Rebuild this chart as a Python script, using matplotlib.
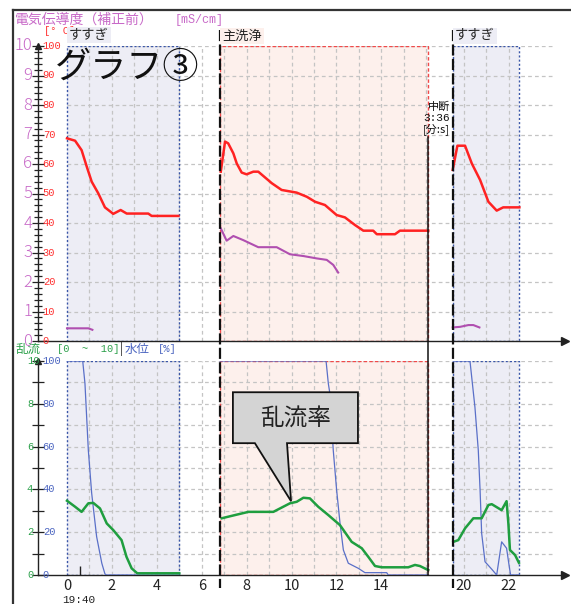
import numpy as np
import matplotlib.pyplot as plt
import matplotlib.transforms as mtransforms
from matplotlib.lines import Line2D
from matplotlib.patches import Rectangle, Polygon

plt.rcParams['font.family'] = ['Noto Sans CJK JP', 'DejaVu Sans']

# ---- data: time in minutes from 19:40 ----
# top panel: temperature [°C] (red, 0-100) and conductivity [mS/cm] (purple, 0-10)
rinse1_t = [0.0, 0.36, 0.65, 0.88, 1.10, 1.39, 1.69, 2.06, 2.39, 2.66, 3.62, 3.77, 4.96]
rinse1_temp = [68.7, 67.9, 64.7, 59.1, 54.0, 50.1, 45.3, 43.1, 44.4, 43.2, 43.2, 42.4, 42.4]
rinse1_cond_t = [0.0, 0.95, 1.13]
rinse1_cond = [0.43, 0.43, 0.38]

main_t = [6.85, 7.04, 7.18, 7.41, 7.56, 7.78, 8.00, 8.30, 8.52, 9.12, 9.56, 10.23,
          10.68, 11.05, 11.49, 12.01, 12.38, 12.83, 13.20, 13.64, 13.80, 14.61, 14.83, 16.09]
main_temp = [57.4, 67.6, 67.0, 63.6, 60.2, 57.1, 56.5, 57.4, 57.4, 53.5, 51.2, 50.3,
             48.9, 47.2, 46.1, 42.7, 41.9, 39.3, 37.4, 37.4, 36.2, 36.2, 37.4, 37.4]
main_cond_t = [6.85, 7.11, 7.41, 7.85, 8.52, 9.34, 9.93, 10.53, 11.12, 11.57, 11.86, 12.08]
main_cond = [3.82, 3.40, 3.56, 3.42, 3.18, 3.18, 2.94, 2.88, 2.80, 2.75, 2.58, 2.32]

rinse2_t = [19.51, 19.72, 20.06, 20.36, 20.73, 21.10, 21.47, 21.76, 22.48]
rinse2_temp = [58.0, 66.2, 66.2, 60.2, 54.6, 47.2, 44.2, 45.3, 45.3]
rinse2_cond_t = [19.51, 19.84, 20.21, 20.43, 20.70]
rinse2_cond = [0.46, 0.48, 0.54, 0.54, 0.46]

# bottom panel: water level [%] (blue) and turbulence [0-10] (green)
rinse1_lvl_t = [0.0, 0.70, 0.80, 0.95, 1.10, 1.32, 1.55, 1.69, 1.75, 5.0]
rinse1_lvl = [100, 100, 89.5, 58.3, 38.1, 17.9, 5.5, 0.5, 0, 0]
rinse1_turb_t = [0.0, 0.36, 0.65, 0.95, 1.17, 1.47, 1.77, 2.06, 2.43, 2.65, 2.88, 3.13, 5.0]
rinse1_turb = [3.47, 3.19, 2.95, 3.35, 3.37, 3.11, 2.41, 2.10, 1.63, 0.85, 0.31, 0.08, 0.08]

main_lvl_t = [6.82, 11.54, 11.64, 11.71, 11.86, 12.01, 12.16, 12.31, 12.53, 12.98, 13.27, 14.24, 14.31, 16.08]
main_lvl = [100, 100, 89.5, 84.8, 58.3, 39.7, 24.3, 11.7, 5.5, 3.1, 1.1, 1.1, 0, 0]
main_turb_t = [6.89, 7.48, 8.08, 9.19, 9.93, 10.23, 10.53, 10.82, 11.19, 11.64, 12.16, 12.68,
               13.13, 13.42, 13.72, 14.02, 15.20, 15.50, 15.72, 16.09]
main_turb = [2.65, 2.80, 2.95, 2.95, 3.35, 3.42, 3.61, 3.58, 3.19, 2.80, 2.33, 1.55,
             1.25, 0.85, 0.42, 0.36, 0.36, 0.47, 0.42, 0.23]

rinse2_lvl_t = [19.54, 20.28, 20.50, 20.65, 20.73, 20.80, 20.95, 21.25, 21.47, 21.69, 21.91, 22.03, 22.09, 22.48]
rinse2_lvl = [100, 100, 78.5, 58.3, 39.7, 19.5, 6.2, 2.7, 0, 15.5, 12.5, 3.9, 0, 0]
rinse2_turb_t = [19.54, 19.76, 20.06, 20.43, 20.80, 21.10, 21.25, 21.69, 21.91, 21.99, 22.06, 22.29, 22.46]
rinse2_turb = [1.55, 1.63, 2.18, 2.65, 2.65, 3.27, 3.31, 3.03, 3.45, 2.41, 1.17, 0.93, 0.57]

# phases
rinse_spans = [(0.0, 5.0), (19.52, 22.48)]
main_span = (6.82, 16.08)
break_at = 16.08      # 中断
hidden = 2.33         # minutes cut out of the axis at the break

x_ticks = [0, 2, 4, 6, 8, 10, 12, 14, 20, 22]
grid_minutes = list(range(1, 17)) + [20, 21, 22]
cond_labels = [str(i) for i in range(11)]
temp_labels = [str(i * 10) for i in range(11)]
turb_labels = [str(i) for i in range(0, 11, 2)]
lvl_labels = [str(i * 10) for i in range(0, 11, 2)]

C_RED, C_PUR, C_GRN, C_BLU = '#ff2222', '#b04fb0', '#1f9e3f', '#5a70c8'
L_PUR, L_RED, L_GRN, L_BLU = '#c86ac8', '#ff3030', '#2ba04a', '#4a64c0'
RINSE_FILL, RINSE_EDGE = '#ededf5', '#3a56a8'
MAIN_FILL, MAIN_EDGE = '#fdf0ec', '#f04a4a'
GRID = '#c4c4c4'


def disp(t):
    t = np.asarray(t, dtype=float)
    return np.where(t > 17, t - hidden, t)


W, H = 571, 604
fig = plt.figure(figsize=(W / 100, H / 100), dpi=100)


def fx(px):
    return px / W


def fy(py):
    return 1 - py / H


X0, PXM = 67, 22.45
xlim = ((38 - X0) / PXM, (565 - X0) / PXM)
grid_end = (555 - X0) / PXM

ax_top = fig.add_axes([fx(38), fy(341), fx(565) - fx(38), fy(46) - fy(341)])
ax_bot = fig.add_axes([fx(38), fy(575), fx(565) - fx(38), fy(361) - fy(575)])

for ax in (ax_top, ax_bot):
    ax.set_xlim(*xlim)
    ax.set_ylim(0, 100)
    ax.patch.set_alpha(0)
    for s in ('top', 'right'):
        ax.spines[s].set_visible(False)
    for s in ('left', 'bottom'):
        ax.spines[s].set_color('#222')
        ax.spines[s].set_linewidth(1.0)
    ax.plot(1, 0, '>', color='#222', ms=6, transform=ax.transAxes, clip_on=False)
    ax.plot(0, 1, '^', color='#222', ms=5, transform=ax.transAxes, clip_on=False)
    ax.set_yticks(np.arange(0, 101, 10))
    ax.tick_params(axis='y', which='both', direction='inout', length=8, width=0.9,
                   color='#222', labelleft=False)
    ax.tick_params(axis='x', length=0, labelbottom=False)

    # phase boxes
    for a, b in rinse_spans:
        a, b = float(disp(a)), float(disp(b))
        ax.add_patch(Rectangle((a, 0), b - a, 100, facecolor=RINSE_FILL, edgecolor='none', zorder=0.5))
        ax.add_patch(Rectangle((a, 0), b - a, 100, fill=False, edgecolor=RINSE_EDGE, lw=1.0,
                               linestyle=(0, (1.5, 1.5)), zorder=1.5))
    a, b = main_span
    ax.add_patch(Rectangle((a, 0), b - a, 100, facecolor=MAIN_FILL, edgecolor='none', zorder=0.5))
    ax.add_patch(Rectangle((a, 0), b - a, 100, fill=False, edgecolor=MAIN_EDGE, lw=1.0,
                           linestyle=(0, (2.5, 1.5)), zorder=1.5))

    # grid
    ax.vlines(disp(grid_minutes), 0, 100, colors=GRID, lw=0.9, linestyles=(0, (3, 2.5)), zorder=1)
    ax.hlines(np.arange(10, 101, 10), 0, grid_end, colors=GRID, lw=0.9, linestyles=(0, (3, 2.5)), zorder=1)

ax_top.set_yticks(np.arange(0, 101, 2), minor=True)
ax_top.tick_params(axis='y', which='minor', length=6)
ax_bot.set_yticks(np.arange(0, 101, 10))

# top panel lines
for t, v in [(rinse1_t, rinse1_temp), (main_t, main_temp), (rinse2_t, rinse2_temp)]:
    ax_top.plot(disp(t), v, color=C_RED, lw=1.8, zorder=3, solid_joinstyle='round')
for t, v in [(rinse1_cond_t, rinse1_cond), (main_cond_t, main_cond), (rinse2_cond_t, rinse2_cond)]:
    ax_top.plot(disp(t), np.asarray(v) * 10, color=C_PUR, lw=1.5, zorder=3)

# bottom panel lines
for t, v in [(rinse1_lvl_t, rinse1_lvl), (main_lvl_t, main_lvl), (rinse2_lvl_t, rinse2_lvl)]:
    ax_bot.plot(disp(t), v, color=C_BLU, lw=0.9, zorder=3)
for t, v in [(rinse1_turb_t, rinse1_turb), (main_turb_t, main_turb), (rinse2_turb_t, rinse2_turb)]:
    ax_bot.plot(disp(t), np.asarray(v) * 10, color=C_GRN, lw=1.8, zorder=3.2)

# y tick labels
ty = ax_top.get_yaxis_transform()
for i, (a, b) in enumerate(zip(cond_labels, temp_labels)):
    ax_top.text(-0.011, i * 10, a, transform=ty, ha='right', va='center', fontsize=12,
                fontweight='light', color=L_PUR, clip_on=False)
    ax_top.text(0.009, i * 10, b, transform=ty, ha='left', va='center', fontsize=7.5,
                family='Liberation Mono', color=L_RED, clip_on=False)
by = ax_bot.get_yaxis_transform()
for i, (a, b) in enumerate(zip(turb_labels, lvl_labels)):
    ax_bot.text(-0.021, i * 20, a, transform=by, ha='left', va='center', fontsize=7.5,
                family='Liberation Mono', color=L_GRN, clip_on=False)
    ax_bot.text(0.009, i * 20, b, transform=by, ha='left', va='center', fontsize=7.5,
                family='Liberation Mono', color=L_BLU, clip_on=False)

# x tick labels
ax_bot.set_xticks(disp(x_ticks), [str(v) for v in x_ticks])
ax_bot.tick_params(axis='x', length=0, pad=3, labelbottom=True, labelsize=10.5, labelcolor='#222')
fig.text(fx(62), fy(600), '19:40', ha='left', va='center', fontsize=8, family='Liberation Mono', color='#222')

# small event mark
ax_bot.vlines(0.58, 0, 4, colors='#222', lw=1.0, zorder=3)

# phase boundary lines across both panels
tr = mtransforms.blended_transform_factory(ax_top.transData, fig.transFigure)
for x in (main_span[0], float(disp(rinse_spans[1][0]))):
    fig.add_artist(Line2D([x, x], [fy(30), fy(588)], transform=tr, color='#111', lw=1.6,
                          linestyle=(0, (5, 1.5)), zorder=4))
fig.add_artist(Line2D([break_at, break_at], [fy(137), fy(575)], transform=tr, color='#111', lw=1.1, zorder=4))

# header texts
fig.text(fx(15), fy(20), '電気伝導度（補正前）', ha='left', va='center', fontsize=10, color=L_PUR)
fig.text(fx(175), fy(20), '[mS/cm]', ha='left', va='center', fontsize=8.5,
         family='Liberation Mono', color=L_PUR)
fig.text(fx(44), fy(31), '[° C]', ha='left', va='center', fontsize=7.5, family='Liberation Mono', color=L_RED)
fig.text(fx(69), fy(35), 'すすぎ', ha='left', va='center', fontsize=9.5, color='#222',
         bbox=dict(boxstyle='square,pad=0.15', facecolor=RINSE_FILL, edgecolor='none'), zorder=5)
fig.text(fx(222), fy(36), '主洗浄', ha='left', va='center', fontsize=9.5, color='#222',
         bbox=dict(boxstyle='square,pad=0.15', facecolor=MAIN_FILL, edgecolor='none'), zorder=5)
fig.text(fx(455), fy(36), 'すすぎ', ha='left', va='center', fontsize=9.5, color='#222',
         bbox=dict(boxstyle='square,pad=0.15', facecolor=RINSE_FILL, edgecolor='none'), zorder=5)

fig.text(fx(15), fy(349), '乱流', ha='left', va='center', fontsize=9, color=L_GRN)
fig.text(fx(57), fy(349), '[0  ~  10]', ha='left', va='center', fontsize=7.5,
         family='Liberation Mono', color=L_GRN)
fig.text(fx(120), fy(349), '|', ha='left', va='center', fontsize=9, color='#222')
fig.text(fx(125), fy(349), '水位', ha='left', va='center', fontsize=9, color=L_BLU)
fig.text(fx(158), fy(349), '[%]', ha='left', va='center', fontsize=7.5,
         family='Liberation Mono', color=L_BLU)

fig.text(fx(450), fy(107), '中断', ha='right', va='center', fontsize=8, color='#111')
fig.text(fx(450), fy(118), '3:36', ha='right', va='center', fontsize=8, family='Liberation Mono', color='#111')
fig.text(fx(450), fy(129), '[分:s]', ha='right', va='center', fontsize=8, color='#111')

fig.text(fx(55), fy(68), 'グラフ③', ha='left', va='center', fontsize=26, color='#111', zorder=6)

# callout 乱流率
callout = Polygon([(7.39, 85.4), (12.96, 85.4), (12.96, 61.6), (9.80, 61.6), (9.98, 34.5),
                   (8.37, 61.6), (7.39, 61.6)], closed=True, facecolor='#d4d4d4',
                  edgecolor='#111', lw=1.3, zorder=6)
ax_bot.add_patch(callout)
ax_bot.text(10.17, 73.3, '乱流率', ha='center', va='center', fontsize=17, color='#222', zorder=7)

# window frame
fig.add_artist(Line2D([fx(13), fx(571)], [fy(10), fy(10)], color='#333', lw=1.6))
fig.add_artist(Line2D([fx(13), fx(13)], [fy(10), fy(604)], color='#333', lw=1.6))

fig.savefig('out.png', dpi=100)
